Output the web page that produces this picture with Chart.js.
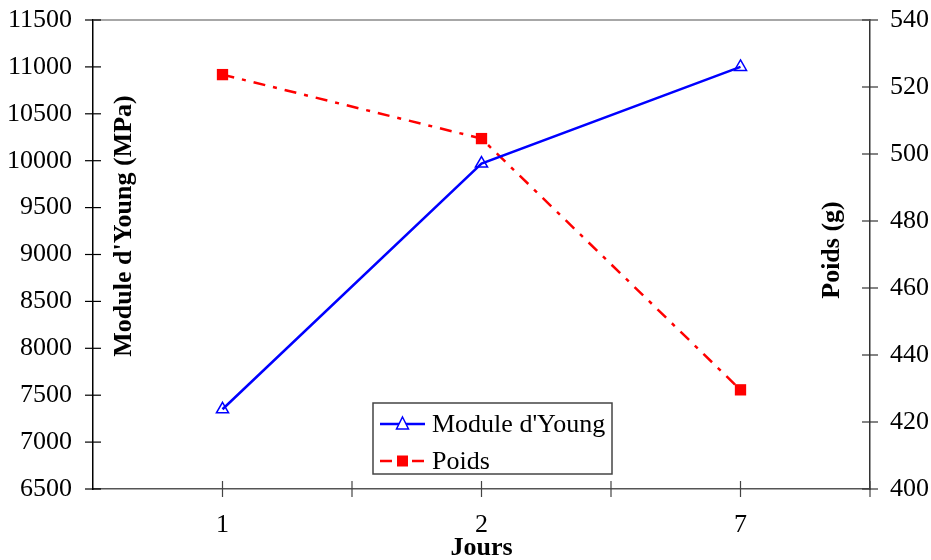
<!DOCTYPE html>
<html>
<head>
<meta charset="utf-8">
<script src="https://cdn.jsdelivr.net/npm/chart.js@4/dist/chart.umd.min.js"></script>
<style>
  body { margin: 0; background: #fff; }
</style>
</head>
<body>
<canvas id="myChart" width="931" height="560"></canvas>
<script>
// chart data
const categories = ['1', '2', '7'];
const youngValues = [7350, 9970, 11000];
const poidsValues = [523.7, 504.6, 429.6];
// axis ranges [min, max, step]
const youngRange = [6500, 11500, 500];
const poidsRange = [400, 540, 20];

const serif = '"Liberation Serif", "Times New Roman", serif';

//draws the crossing tick marks, axis titles and the boxed legend
const decorPlugin = {
  id: 'decor',
  afterDraw(chart) {
    const ctx = chart.ctx;
    const a = chart.chartArea;
    const x = chart.scales.x, y = chart.scales.y, y1 = chart.scales.y1;
    ctx.save();

    // top frame line
    ctx.strokeStyle = '#8a8a8a';
    ctx.lineWidth = 1.5;
    ctx.beginPath();
    ctx.moveTo(a.left, a.top);
    ctx.lineTo(a.right, a.top);
    ctx.stroke();

    // left ticks
    ctx.strokeStyle = '#000';
    ctx.lineWidth = 1.2;
    y.ticks.forEach(t => {
      const p = y.getPixelForValue(t.value);
      ctx.beginPath(); ctx.moveTo(a.left - 8, p); ctx.lineTo(a.left + 8, p); ctx.stroke();
    });
    // right ticks
    ctx.strokeStyle = '#333';
    y1.ticks.forEach(t => {
      const p = y1.getPixelForValue(t.value);
      ctx.beginPath(); ctx.moveTo(a.right - 8, p); ctx.lineTo(a.right + 8, p); ctx.stroke();
    });
    // bottom ticks at category centres and boundaries
    ctx.strokeStyle = '#444';
    for (let v = 0; v <= categories.length - 0.5; v += 0.5) {
      const p = x.getPixelForValue(v);
      ctx.beginPath(); ctx.moveTo(p, a.bottom - 8); ctx.lineTo(p, a.bottom + 8); ctx.stroke();
    }

    // axis titles
    ctx.fillStyle = '#000';
    ctx.font = 'bold 26px ' + serif;
    ctx.textAlign = 'center';
    ctx.textBaseline = 'middle';
    ctx.fillText('Jours', (a.left + a.right) / 2, 548);

    ctx.save();
    ctx.translate(a.left + 31, 226);
    ctx.rotate(-Math.PI / 2);
    ctx.fillText("Module d'Young (MPa)", 0, 0);
    ctx.restore();

    ctx.save();
    ctx.translate(a.right - 38, 250);
    ctx.rotate(-Math.PI / 2);
    ctx.fillText('Poids (g)', 0, 0);
    ctx.restore();

    // legend box
    const lx = 373, ly = 403, lw = 239, lh = 71;
    ctx.fillStyle = '#fff';
    ctx.fillRect(lx, ly, lw, lh);
    ctx.strokeStyle = '#444';
    ctx.lineWidth = 1.5;
    ctx.strokeRect(lx, ly, lw, lh);

    // young sample
    const r1 = ly + 21, r2 = ly + 58;
    ctx.strokeStyle = '#0000ff';
    ctx.lineWidth = 2.5;
    ctx.beginPath(); ctx.moveTo(lx + 7, r1); ctx.lineTo(lx + 52, r1); ctx.stroke();
    ctx.fillStyle = '#fff';
    ctx.lineWidth = 1.5;
    ctx.beginPath();
    ctx.moveTo(lx + 29.5, r1 - 7);
    ctx.lineTo(lx + 35.5, r1 + 5);
    ctx.lineTo(lx + 23.5, r1 + 5);
    ctx.closePath();
    ctx.fill(); ctx.stroke();

    // poids sample
    ctx.strokeStyle = '#ff0000';
    ctx.lineWidth = 2.5;
    ctx.setLineDash([12, 8, 4, 8]);
    ctx.beginPath(); ctx.moveTo(lx + 7, r2); ctx.lineTo(lx + 54, r2); ctx.stroke();
    ctx.setLineDash([]);
    ctx.fillStyle = '#ff0000';
    ctx.fillRect(lx + 24, r2 - 5.5, 11, 11);

    ctx.fillStyle = '#000';
    ctx.font = '26px ' + serif;
    ctx.textAlign = 'left';
    ctx.fillText("Module d'Young", lx + 59, r1 + 1);
    ctx.fillText('Poids', lx + 59, r2 + 1);

    ctx.restore();
  }
};

const chartData = {
  labels: categories,
  datasets: [
    {
      label: "Module d'Young",
      data: youngValues,
      yAxisID: 'y',
      borderColor: '#0000ff',
      borderWidth: 2.5,
      backgroundColor: '#ffffff',
      pointStyle: 'triangle',
      pointRadius: 7,
      pointBorderWidth: 1.5,
      pointBorderColor: '#0000ff',
      pointBackgroundColor: 'rgba(255,255,255,0)',
      tension: 0
    },
    {
      label: 'Poids',
      data: poidsValues,
      yAxisID: 'y1',
      borderColor: '#ff0000',
      borderWidth: 2.5,
      borderDash: [12, 8, 4, 8],
      backgroundColor: '#ff0000',
      pointStyle: 'rect',
      pointRadius: 8,
      pointBorderWidth: 0,
      pointBackgroundColor: '#ff0000',
      tension: 0
    }
  ]
};

const tickFont = { family: serif, size: 26 };
const plain = v => String(v);

const chartConfig = {
  type: 'line',
  data: chartData,
  options: {
    responsive: false,
    animation: false,
    layout: { padding: { top: 20, right: 0, bottom: 0, left: 0 } },
    plugins: { legend: { display: false }, tooltip: { enabled: false } },
    scales: {
      x: {
        offset: true,
        grid: { display: false, drawTicks: false, offset: true },
        border: { color: '#555', width: 1.5 },
        ticks: { font: tickFont, color: '#000', padding: 21, maxRotation: 0 },
        afterFit: s => { s.height = 71; s.paddingLeft = 0; s.paddingRight = 0; }
      },
      y: {
        position: 'left',
        min: youngRange[0], max: youngRange[1],
        grid: { display: false, drawTicks: false },
        border: { color: '#000', width: 1.5 },
        ticks: { stepSize: youngRange[2], font: tickFont, color: '#000', padding: 21, callback: plain },
        afterFit: s => { s.width = 93; s.paddingTop = 0; s.paddingBottom = 0; }
      },
      y1: {
        position: 'right',
        min: poidsRange[0], max: poidsRange[1],
        grid: { display: false, drawTicks: false },
        border: { color: '#333', width: 1.5 },
        ticks: { stepSize: poidsRange[2], font: tickFont, color: '#000', padding: 20, callback: plain },
        afterFit: s => { s.width = 61; s.paddingTop = 0; s.paddingBottom = 0; }
      }
    }
  },
  plugins: [decorPlugin]
};

//create chart
const myChart = new Chart(document.getElementById('myChart'), chartConfig);
</script>
</body>
</html>
